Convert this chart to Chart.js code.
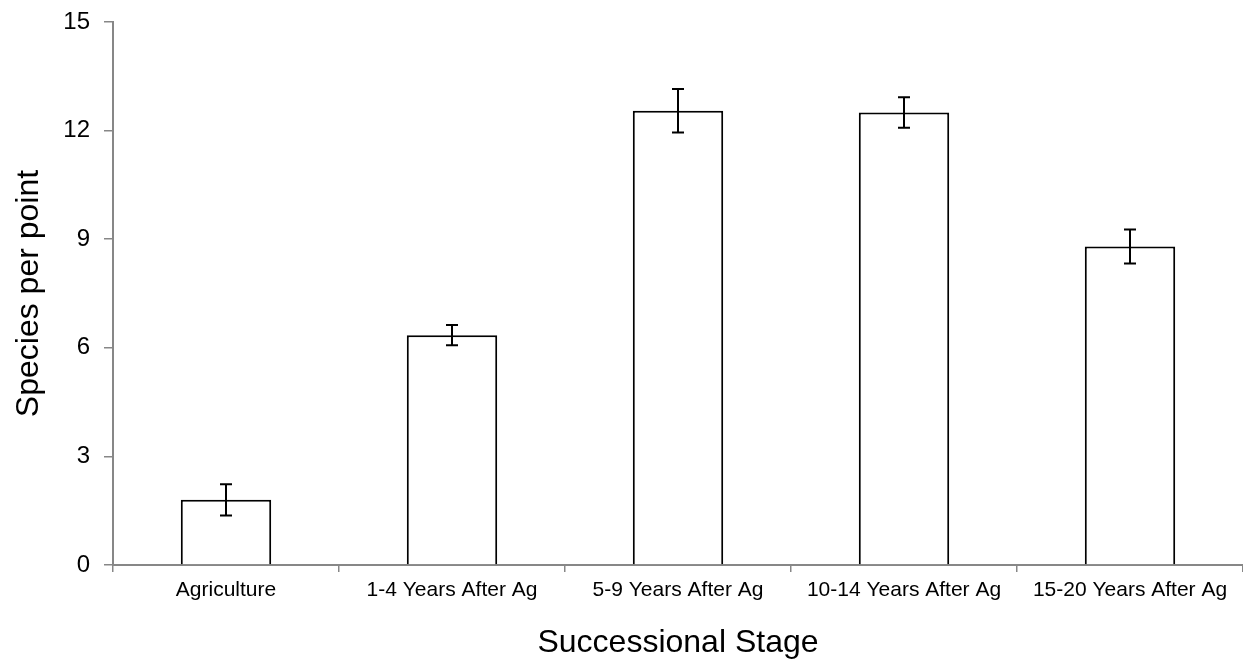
<!DOCTYPE html>
<html lang="en">
<head>
  <meta charset="UTF-8">
  <title>Species per point by successional stage</title>
  <script src="https://cdn.jsdelivr.net/npm/chart.js"></script>
  <style>
    body {
      margin: 0;
      background: #fff;
    }
    canvas {
      display: block;
    }
  </style>
</head>
<body>
  <canvas id="stageChart" width="1243" height="665"></canvas>

  <script>
    const categories = ['Agriculture', '1-4 Years After Ag', '5-9 Years After Ag', '10-14 Years After Ag', '15-20 Years After Ag'];
    const speciesPerPoint = [1.8, 6.35, 12.55, 12.5, 8.8];
    const stdError = [0.43, 0.28, 0.6, 0.42, 0.47];
    const yTicks = [0, 3, 6, 9, 12, 15];

    const FONT = '"Liberation Sans", Arial, sans-serif';
    const AXIS_GREY = '#878787';

    // error bars drawn from the data through the chart scales
    const errorBars = {
      id: 'errorBars',
      afterDatasetsDraw(chart) {
        const { ctx, scales: { x, y } } = chart;
        ctx.save();
        ctx.strokeStyle = '#000';
        ctx.lineWidth = 2;
        speciesPerPoint.forEach((v, i) => {
          const px = x.getPixelForValue(i);
          const top = y.getPixelForValue(v + stdError[i]);
          const bot = y.getPixelForValue(v - stdError[i]);
          ctx.beginPath();
          ctx.moveTo(px, top); ctx.lineTo(px, bot);
          ctx.moveTo(px - 6, top); ctx.lineTo(px + 6, top);
          ctx.moveTo(px - 6, bot); ctx.lineTo(px + 6, bot);
          ctx.stroke();
        });
        ctx.restore();
      }
    };

    const ctx = document.getElementById('stageChart').getContext('2d');
    new Chart(ctx, {
      type: 'bar',
      data: {
        labels: categories,
        datasets: [{
          label: 'Species per point',
          data: speciesPerPoint,
          backgroundColor: '#fff',
          borderColor: '#000',
          borderWidth: 2,
          categoryPercentage: 1,
          barPercentage: 0.4
        }]
      },
      options: {
        responsive: false,
        animation: false,
        layout: { padding: { top: 22, right: 0, bottom: 0, left: 0 } },
        plugins: {
          legend: { display: false },
          tooltip: { enabled: false }
        },
        scales: {
          x: {
            afterFit: s => { s.height = 100; s.paddingLeft = 0; s.paddingRight = 0; },
            grid: { drawOnChartArea: false, drawTicks: true, tickLength: 7, color: AXIS_GREY, lineWidth: 1.5 },
            border: { color: AXIS_GREY, width: 2 },
            ticks: { color: '#000', padding: 6, maxRotation: 0, font: { family: FONT, size: 21 } },
            title: {
              display: true,
              text: 'Successional Stage',
              color: '#000',
              font: { family: FONT, size: 32 },
              padding: { top: 0, bottom: 3 }
            }
          },
          y: {
            min: 0,
            max: 15,
            // fixed axis width, and no extra room for the half-height of the top label
            afterFit: s => { s.width = 113; s.paddingTop = 0; s.paddingBottom = 0; },
            afterBuildTicks: s => { s.ticks = yTicks.map(v => ({ value: v })); },
            grid: { drawOnChartArea: false, drawTicks: true, tickLength: 9, color: AXIS_GREY, lineWidth: 1.5 },
            border: { color: AXIS_GREY, width: 2 },
            ticks: { color: '#000', padding: 14, font: { family: FONT, size: 24 } },
            title: {
              display: true,
              text: 'Species per point',
              color: '#000',
              font: { family: FONT, size: 32 },
              padding: { top: 10, bottom: 0 }
            }
          }
        }
      },
      plugins: [errorBars]
    });
  </script>
</body>
</html>
